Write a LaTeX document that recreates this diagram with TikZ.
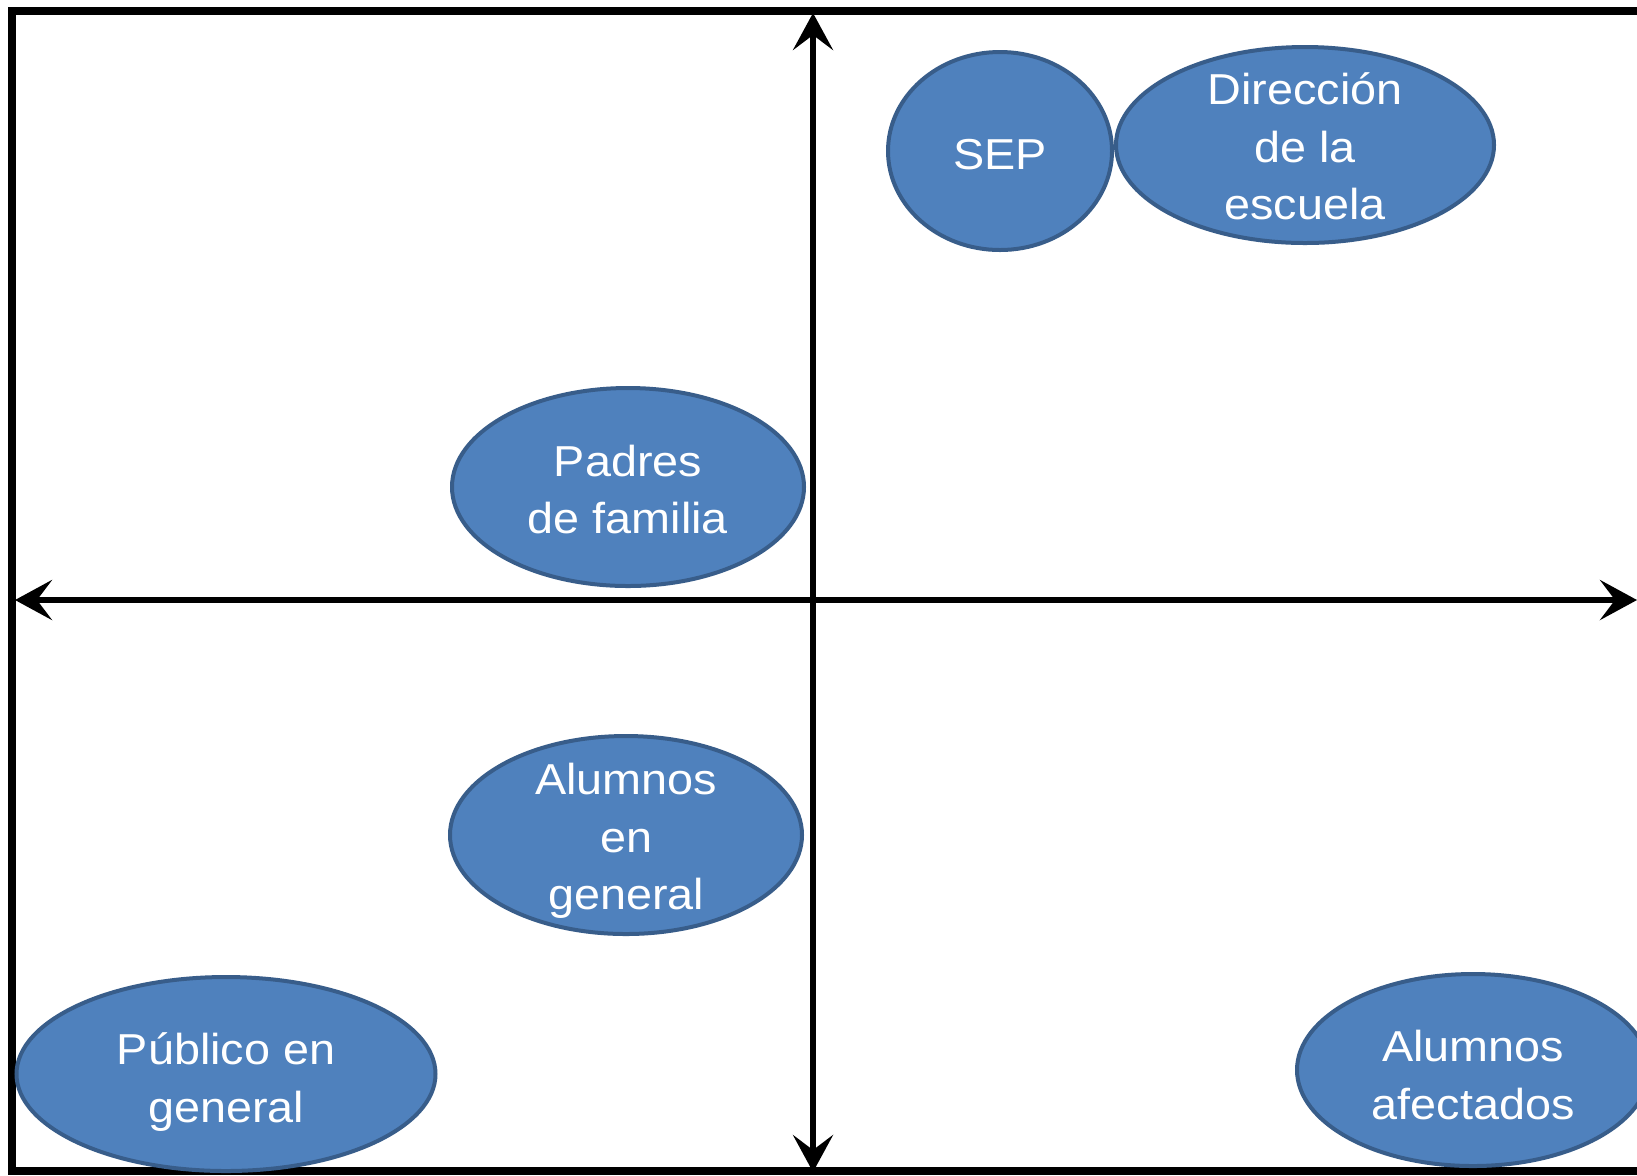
\documentclass[tikz,border=0pt]{standalone}
\usepackage{fontspec}
\setmainfont{Liberation Sans}[FakeStretch=1.08]
\usetikzlibrary{shapes.geometric,arrows.meta}
\definecolor{fillblue}{HTML}{4F81BD}
\definecolor{edgeblue}{HTML}{385D8A}
\tikzset{
  actor/.style={ellipse, draw=edgeblue, fill=fillblue, line width=2pt, inner sep=0pt},
  actortext/.style={text=white, align=center, inner sep=0pt, font=\fontsize{21.65pt}{28.75pt}\selectfont},
  axis/.style={line width=3.25pt, {Stealth[length=18.5pt,width=20pt,inset=7.5pt]}-{Stealth[length=18.5pt,width=20pt,inset=7.5pt]}},
  frame/.style={line width=3.6pt, line cap=rect}
}
\begin{document}
\begin{tikzpicture}[x=0.5pt,y=-0.5pt]
\useasboundingbox (0,0) rectangle (1637,1175);
\clip (0,0) rectangle (1637,1175);
\fill[white] (0,0) rectangle (1637,1175);
% frame (open on the right)
\coordinate (tr) at (1660,11);
\coordinate (tl) at (12,11);
\coordinate (bl) at (12,1171);
\coordinate (br) at (1660,1171);
\draw[frame] (tr) -- (tl) -- (bl) -- (br);
% axes
\coordinate (vtop) at (813,13);
\coordinate (vbot) at (813,1172);
\coordinate (hleft) at (15,600);
\coordinate (hright) at (1637,600);
\draw[axis] (vbot) -- (vtop);
\draw[axis] (hleft) -- (hright);
% actors
\node[actor, minimum width=112pt, minimum height=99pt,
  label={[actortext, yshift=-2pt]center:SEP}] (sep) at (1000,151) {};
\node[actor, minimum width=189pt, minimum height=98pt,
  label={[actortext, yshift=-0.7pt]center:{Dirección\\de la\\escuela}}] (dir) at (1305,145) {};
\node[actor, minimum width=176pt, minimum height=99pt,
  label={[actortext, yshift=-1.2pt]center:{Padres\\de familia}}] (pad) at (628,487) {};
\node[actor, minimum width=176pt, minimum height=99pt,
  label={[actortext, yshift=-3pt]center:{Alumnos\\en\\general}}] (alg) at (626,835) {};
\node[actor, minimum width=209.5pt, minimum height=97pt,
  label={[actortext, yshift=-4pt]center:{Público en\\general}}] (pub) at (226,1074) {};
\node[actor, minimum width=176pt, minimum height=96pt,
  label={[actortext, yshift=-2.5pt]center:{Alumnos\\afectados}}] (afe) at (1473,1070) {};
\end{tikzpicture}
\end{document}
